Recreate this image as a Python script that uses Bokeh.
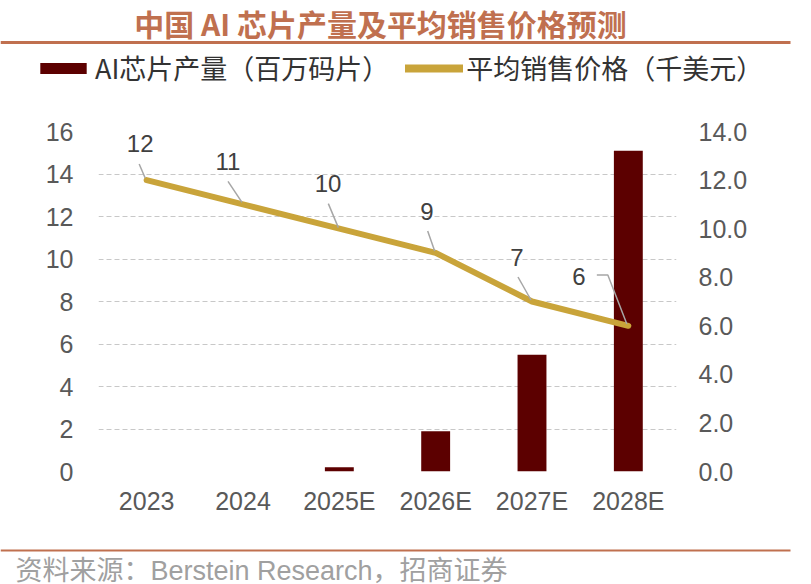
from bokeh.plotting import figure
from bokeh.models import (FactorRange, Range1d, LinearAxis, SingleIntervalTicker,
                          NumeralTickFormatter, Legend, LegendItem, Label)
from bokeh.layouts import column
from bokeh.embed import file_html
from bokeh.resources import INLINE
from bokeh.core.properties import value

# ---------------- data ----------------
categories = ["2023", "2024", "2025E", "2026E", "2027E", "2028E"]
production = [0, 0, 0.2, 1.9, 5.5, 15.1]          # AI chip output (million wafers)
price = [12, 11, 10, 9, 7, 6]                      # average selling price (k USD)
price_labels = ["12", "11", "10", "9", "7", "6"]

title_text = "中国 AI 芯片产量及平均销售价格预测"
legend_bar = "AI芯片产量（百万码片）"
legend_line = "平均销售价格（千美元）"
source_text = "资料来源：Berstein Research，招商证券"

# ---------------- styles / positions ----------------
BAR = "#5C0000"
GOLD = "#C9A43A"
ACCENT = "#C0704F"
TICK = "#595959"
W = 811
HEAD_H, MAIN_H, FOOT_H = 108, 427, 49
FRAME_L, FRAME_W, FRAME_T, FRAME_H = 98, 578, 23, 340
LEFT_MAX, RIGHT_MAX = 16, 14

# data-label offsets (px) relative to each point
lab_dx = [-6.5, -15, -11.3, -8.7, -15, -49.5]
lab_dy = [-36.4, -42.7, -45, -41, -44.5, -49.7]
# leader-line vertices (px) relative to each point
lead_px = [
    [(-7.5, -16), (-1.5, -2)],
    [(-15, -23), (-1, -2)],
    [(-11, -25), (-1, -1)],
    [(-8, -22), (-1, -2)],
    [(-14, -24.5), (-1, -1.5)],
    [(-31.5, -50.7), (-20.5, -50.7), (-1.5, -1.7)],
]


def blank(height):
    f = figure(width=W, height=height, x_range=Range1d(0, W), y_range=Range1d(0, height),
               min_border=0, toolbar_location=None, output_backend="svg",
               x_axis_type=None, y_axis_type=None)
    f.frame_align = False
    f.grid.visible = False
    f.outline_line_color = None
    return f


# ---------------- header ----------------
hp = blank(HEAD_H)
hp.add_layout(Label(x=380, y=HEAD_H - 22, text=title_text, text_align="center",
                    text_baseline="middle", text_font="Noto Sans CJK SC",
                    text_font_style="bold", text_font_size="30px",
                    text_color=ACCENT))
hp.segment(x0=[0], y0=[HEAD_H - 42], x1=[790], y1=[HEAD_H - 42],
           line_color=ACCENT, line_width=3)
r_bar = hp.vbar(x=[-500], top=[-500], bottom=[-501], width=1,
                fill_color=BAR, line_color=None)
r_line = hp.line(x=[-500, -499], y=[-500, -500], line_color=GOLD,
                 line_width=8, line_cap="round")
legend = Legend(items=[LegendItem(label=legend_bar, renderers=[r_bar]),
                       LegendItem(label=legend_line, renderers=[r_line])],
                orientation="horizontal", location=(34, 21), margin=0, padding=0,
                spacing=16, label_standoff=3, glyph_width=58, glyph_height=14,
                border_line_color=None, background_fill_alpha=0,
                label_text_font="Noto Sans CJK SC", label_text_font_size="27px",
                label_text_color="#333333")
hp.add_layout(legend, "center")

# ---------------- main chart ----------------
p = figure(width=W, height=MAIN_H, x_range=FactorRange(*categories),
           y_range=Range1d(0, LEFT_MAX), toolbar_location=None, output_backend="svg",
           min_border_left=FRAME_L, min_border_right=W - FRAME_L - FRAME_W,
           min_border_top=FRAME_T, min_border_bottom=MAIN_H - FRAME_T - FRAME_H)
p.extra_y_ranges = {"price": Range1d(0, RIGHT_MAX)}
p.outline_line_color = None
p.xgrid.visible = False
p.ygrid.grid_line_color = "#C8C8C8"
p.ygrid.grid_line_dash = "5 3"
p.ygrid.grid_line_width = 1
p.yaxis.ticker = SingleIntervalTicker(interval=2, num_minor_ticks=0)

raxis = LinearAxis(y_range_name="price",
                   ticker=SingleIntervalTicker(interval=2, num_minor_ticks=0),
                   formatter=NumeralTickFormatter(format="0.0"))
p.add_layout(raxis, "right")

for ax in [p.xaxis[0], p.yaxis[0], raxis]:
    ax.axis_line_color = None
    ax.major_tick_line_color = None
    ax.minor_tick_line_color = None
    ax.major_label_text_font = "Liberation Sans"
    ax.major_label_text_font_size = "25px"
    ax.major_label_text_color = TICK
p.yaxis[0].major_label_standoff = 19
raxis.major_label_standoff = 16
p.xaxis[0].major_label_standoff = 9

p.vbar(x=categories, top=production, width=0.3, fill_color=BAR, line_color=None)
p.line(x=categories, y=price, y_range_name="price", line_color=GOLD,
       line_width=6, line_join="round", line_cap="round")

px_per_cat = FRAME_W / len(categories)
px_per_unit = FRAME_H / RIGHT_MAX
lead_xs = [[categories.index(c) + 0.5 + dx / px_per_cat for dx, dy in pts]
           for c, pts in zip(categories, lead_px)]
lead_ys = [[v - dy / px_per_unit for dx, dy in pts] for v, pts in zip(price, lead_px)]
p.multi_line(xs=lead_xs, ys=lead_ys, y_range_name="price",
             line_color="#A6A6A6", line_width=1.5)

p.text(x=categories, y=price, text=price_labels, x_offset=lab_dx, y_offset=lab_dy,
       y_range_name="price", text_align="center", text_baseline="middle",
       text_font=value("Liberation Sans"), text_font_size="24px",
       text_color="#404040")

# ---------------- footer ----------------
fp = blank(FOOT_H)
fp.segment(x0=[0], y0=[FOOT_H - 15], x1=[790], y1=[FOOT_H - 15],
           line_color=ACCENT, line_width=2)
fp.add_layout(Label(x=15, y=FOOT_H - 35, text=source_text, text_align="left",
                    text_baseline="middle",
                    text_font="Liberation Sans, Noto Sans CJK SC",
                    text_font_size="27px", text_color="#A0A0A0"))

layout = column(hp, p, fp, spacing=0)
open("out.html", "w").write(file_html(layout, INLINE))
